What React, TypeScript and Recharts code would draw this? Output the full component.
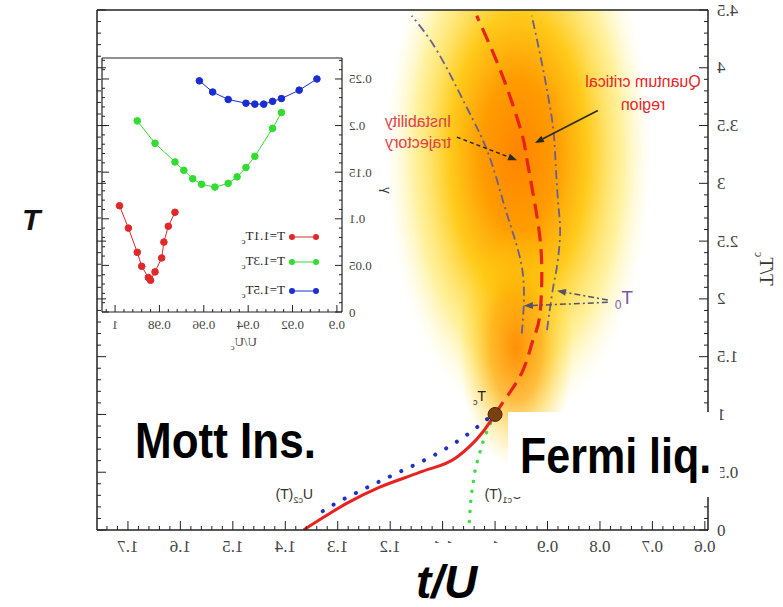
import React from "react"
import { ComposedChart, Line, XAxis, YAxis, ReferenceArea, ReferenceLine, ReferenceDot } from "recharts"

// main panel: t/U on x, T/Tc on y (the figure is printed mirrored)
const xTicks = [0.6, 0.7, 0.8, 0.9, 1, 1.1, 1.2, 1.3, 1.4, 1.5, 1.6, 1.7]
const yTicks = [0, 0.5, 1, 1.5, 2, 2.5, 3, 3.5, 4, 4.5]

// red dashed crossover line going up from Tc
const crossoverU = [1.0, 0.978, 0.947, 0.928, 0.915, 0.911, 0.92, 0.939, 0.949, 0.985, 1.035]
const crossoverT = [1.0, 1.15, 1.38, 1.64, 1.85, 2.28, 2.71, 3.2, 3.43, 3.92, 4.45]

// solid red first order line below Tc
const mottU = [1.0, 1.023, 1.073, 1.143, 1.22, 1.283, 1.334, 1.365]
const mottT = [1.0, 0.85, 0.63, 0.5, 0.37, 0.23, 0.09, 0.0]

// Uc2(T) blue dots, Uc1(T) green dots
const uc2U = [1.015, 1.061, 1.107, 1.155, 1.202, 1.252, 1.3, 1.347]
const uc2T = [0.96, 0.8, 0.67, 0.56, 0.46, 0.35, 0.24, 0.11]
const uc1U = [1.0, 1.029, 1.04, 1.048, 1.05]
const uc1T = [1.0, 0.67, 0.46, 0.15, 0.0]

// T0 dash-dot boundaries of the quantum critical region
const t0LeftU = [0.949, 0.945, 0.949, 0.966, 0.985, 1.006, 1.029, 1.061, 1.111, 1.159]
const t0LeftT = [1.7, 1.99, 2.28, 2.57, 2.85, 3.17, 3.43, 3.72, 4.15, 4.45]
const t0RightU = [0.901, 0.89, 0.882, 0.876, 0.88, 0.886, 0.892, 0.909, 0.93]
const t0RightT = [1.73, 2.08, 2.28, 2.57, 2.85, 3.29, 3.57, 4.0, 4.45]

// inset: gamma vs U/Uc
const insetXTicks = [0.9, 0.92, 0.94, 0.96, 0.98, 1]
const insetYTicks = [0, 0.05, 0.1, 0.15, 0.2, 0.25]
const redU = [0.998, 0.994, 0.99, 0.988, 0.985, 0.984, 0.982, 0.979, 0.978, 0.976, 0.973]
const redG = [0.114, 0.09, 0.064, 0.049, 0.037, 0.034, 0.043, 0.058, 0.075, 0.092, 0.107]
const greenU = [0.99, 0.982, 0.973, 0.969, 0.965, 0.961, 0.955, 0.949, 0.945, 0.941, 0.937, 0.929, 0.925]
const greenG = [0.205, 0.181, 0.161, 0.152, 0.143, 0.137, 0.134, 0.138, 0.145, 0.155, 0.167, 0.197, 0.214]
const blueU = [0.962, 0.956, 0.949, 0.941, 0.937, 0.933, 0.929, 0.925, 0.917, 0.909]
const blueG = [0.248, 0.236, 0.228, 0.224, 0.223, 0.223, 0.226, 0.229, 0.238, 0.25]

const zip = (xs: number[], ys: number[]) => xs.map((x, i) => ({ x, y: ys[i] }))
const zipInset = (xs: number[], ys: number[]) => xs.map((u, i) => ({ u, g: ys[i] }))
const steps = (a: number, b: number, s: number) => {
  const out: number[] = []
  for (let v = a; v <= b + 1e-9; v += s) out.push(Math.round(v * 1000) / 1000)
  return out
}
const withMinor = (major: number[], minor: number[]) => Array.from(new Set([...minor, ...major])).sort((a, b) => a - b)

const xAll = withMinor(xTicks, steps(0.6, 1.74, 0.02))
const yAll = withMinor(yTicks, steps(0, 4.5, 0.1))
const insetXAll = withMinor(insetXTicks, steps(0.9, 1.004, 0.004))
const insetYAll = withMinor(insetYTicks, steps(0, 0.27, 0.01))

const X_DOMAIN: [number, number] = [0.594, 1.759]
const Y_DOMAIN: [number, number] = [0, 4.5]
const IX_DOMAIN: [number, number] = [0.8977, 1.0059]
const IY_DOMAIN: [number, number] = [0, 0.2725]

const serif = "'Liberation Serif', 'DejaVu Serif', serif"
const sans = "'Liberation Sans', Arial, sans-serif"
const fmt = (v: number) => String(Number(v.toFixed(2)))

type Side = "bottom" | "top" | "left" | "right"

// frame tick drawn inward, with an optional label outside for major ticks
function frameTick(side: Side, majors: number[], long: number, short: number, label?: { size: number; gap: number }) {
  return (p: any) => {
    const v = p.payload.value
    const major = majors.some((m) => Math.abs(m - v) < 1e-6)
    const L = major ? long : short
    const { x, y } = p
    let end = { x, y }
    if (side === "bottom") end = { x, y: y - L }
    if (side === "top") end = { x, y: y + L }
    if (side === "left") end = { x: x + L, y }
    if (side === "right") end = { x: x - L, y }
    let text = null
    if (label && major) {
      const common = { fontFamily: serif, fontSize: label.size, fill: "#444" }
      text =
        side === "bottom" ? (
          <text x={x} y={y + label.gap} textAnchor="middle" dominantBaseline="hanging" {...common}>
            {fmt(v)}
          </text>
        ) : (
          <text x={x - label.gap} y={y} textAnchor="end" dominantBaseline="central" {...common}>
            {fmt(v)}
          </text>
        )
    }
    return (
      <g>
        <line x1={x} y1={y} x2={end.x} y2={end.y} stroke="#222" strokeWidth={1} />
        {text}
      </g>
    )
  }
}

function arrow(color: string, dash?: string) {
  return (p: any) => {
    const { x1, y1, x2, y2 } = p
    const a = Math.atan2(y2 - y1, x2 - x1)
    const L = 9
    const W = 3.5
    const bx = x2 - L * Math.cos(a)
    const by = y2 - L * Math.sin(a)
    const pts = `${x2},${y2} ${bx + W * Math.sin(a)},${by - W * Math.cos(a)} ${bx - W * Math.sin(a)},${by + W * Math.cos(a)}`
    return (
      <g>
        <line x1={x1} y1={y1} x2={bx} y2={by} stroke={color} strokeWidth={1.5} strokeDasharray={dash} />
        <polygon points={pts} fill={color} />
      </g>
    )
  }
}

const glow = (id: string) => (p: any) => (
  <ellipse
    cx={p.x + p.width / 2}
    cy={p.y + p.height / 2}
    rx={Math.abs(p.width) / 2}
    ry={Math.abs(p.height) / 2}
    fill={`url(#${id})`}
    clipPath={p.clipPath}
  />
)

const frameLine = { stroke: "#222", strokeWidth: 1.5 }

function MainChart() {
  return (
    <ComposedChart width={783} height={607} margin={{ top: 9, right: 96, bottom: 47, left: 0 }}>
      <defs>
        <radialGradient id="qcGlow" cx="50%" cy="50%" r="50%">
          <stop offset="0%" stopColor="#ff8400" />
          <stop offset="28%" stopColor="#ff9c00" />
          <stop offset="52%" stopColor="#ffc810" stopOpacity={0.95} />
          <stop offset="78%" stopColor="#ffe860" stopOpacity={0.6} />
          <stop offset="100%" stopColor="#fff8c0" stopOpacity={0} />
        </radialGradient>
        <radialGradient id="qcGlowLow" cx="50%" cy="50%" r="50%">
          <stop offset="0%" stopColor="#ff8a00" stopOpacity={0.95} />
          <stop offset="45%" stopColor="#ffa400" stopOpacity={0.7} />
          <stop offset="75%" stopColor="#ffc400" stopOpacity={0.3} />
          <stop offset="100%" stopColor="#ffd800" stopOpacity={0} />
        </radialGradient>
      </defs>

      <XAxis
        xAxisId="x"
        dataKey="x"
        type="number"
        domain={X_DOMAIN}
        allowDataOverflow
        ticks={xAll}
        interval={0}
        tick={frameTick("bottom", xTicks, 9, 4, { size: 17, gap: 10 })}
        tickLine={false}
        tickSize={0}
        tickMargin={0}
        axisLine={frameLine}
        height={30}
      />
      <XAxis
        xAxisId="xt"
        orientation="top"
        type="number"
        domain={X_DOMAIN}
        allowDataOverflow
        ticks={xAll}
        interval={0}
        tick={frameTick("top", xTicks, 9, 4)}
        tickLine={false}
        tickSize={0}
        tickMargin={0}
        axisLine={frameLine}
        height={1}
      />
      <YAxis
        yAxisId="y"
        type="number"
        domain={Y_DOMAIN}
        allowDataOverflow
        ticks={yAll}
        interval={0}
        tick={frameTick("left", yTicks, 9, 4, { size: 17, gap: 9 })}
        tickLine={false}
        tickSize={0}
        tickMargin={0}
        axisLine={frameLine}
        width={75}
      />
      <YAxis
        yAxisId="yr"
        orientation="right"
        type="number"
        domain={Y_DOMAIN}
        allowDataOverflow
        ticks={yAll}
        interval={0}
        tick={frameTick("right", yTicks, 9, 4)}
        tickLine={false}
        tickSize={0}
        tickMargin={0}
        axisLine={frameLine}
        width={1}
      />

      <ReferenceArea xAxisId="x" yAxisId="y" x1={0.7} x2={1.21} y1={0.9} y2={5.6} ifOverflow="hidden" shape={glow("qcGlow")} />
      <ReferenceArea xAxisId="x" yAxisId="y" x1={0.85} x2={1.07} y1={0.55} y2={2.6} ifOverflow="hidden" shape={glow("qcGlowLow")} />

      <Line xAxisId="x" yAxisId="y" data={zip(t0LeftU, t0LeftT)} dataKey="y" type="natural" stroke="#6a5f8f" strokeWidth={1.8} strokeDasharray="9 4 2 4" dot={false} activeDot={false} isAnimationActive={false} />
      <Line xAxisId="x" yAxisId="y" data={zip(t0RightU, t0RightT)} dataKey="y" type="natural" stroke="#6a5f8f" strokeWidth={1.8} strokeDasharray="9 4 2 4" dot={false} activeDot={false} isAnimationActive={false} />
      <Line xAxisId="x" yAxisId="y" data={zip(crossoverU, crossoverT)} dataKey="y" type="natural" stroke="#e8231f" strokeWidth={3.2} strokeDasharray="15 8" dot={false} activeDot={false} isAnimationActive={false} />
      <Line xAxisId="x" yAxisId="y" data={zip(uc2U, uc2T)} dataKey="y" type="monotone" stroke="#2030c8" strokeWidth={4} strokeLinecap="round" strokeDasharray="0.1 12.5" dot={false} activeDot={false} isAnimationActive={false} />
      <Line xAxisId="x" yAxisId="y" data={zip(uc1U, uc1T)} dataKey="y" type="monotone" stroke="#40dd40" strokeWidth={3.5} strokeLinecap="round" strokeDasharray="0.1 10" dot={false} activeDot={false} isAnimationActive={false} />
      <Line xAxisId="x" yAxisId="y" data={zip(mottU, mottT)} dataKey="y" type="monotone" stroke="#e8231f" strokeWidth={3} dot={false} activeDot={false} isAnimationActive={false} />

      <ReferenceLine xAxisId="x" yAxisId="y" segment={[{ x: 0.804, y: 3.63 }, { x: 0.924, y: 3.35 }]} ifOverflow="visible" shape={arrow("#2a2a18")} />
      <ReferenceLine xAxisId="x" yAxisId="y" segment={[{ x: 1.073, y: 3.4 }, { x: 0.958, y: 3.2 }]} ifOverflow="visible" shape={arrow("#2a2a18", "4 3")} />
      <ReferenceLine xAxisId="x" yAxisId="y" segment={[{ x: 0.785, y: 1.99 }, { x: 0.882, y: 2.07 }]} ifOverflow="visible" shape={arrow("#55506a", "6 3 2 3")} />
      <ReferenceLine xAxisId="x" yAxisId="y" segment={[{ x: 0.785, y: 1.97 }, { x: 0.945, y: 1.94 }]} ifOverflow="visible" shape={arrow("#55506a", "6 3 2 3")} />

      <ReferenceDot xAxisId="x" yAxisId="y" x={1} y={1} r={7} fill="#7a4010" stroke="#4a2400" strokeWidth={1} />
    </ComposedChart>
  )
}

function InsetChart() {
  const series = [
    { data: zipInset(redU, redG), color: "#e02828" },
    { data: zipInset(greenU, greenG), color: "#30dd30" },
    { data: zipInset(blueU, blueG), color: "#1a2ed0" },
  ]
  const line = { stroke: "#222", strokeWidth: 1.2 }
  return (
    <ComposedChart width={305} height={300} margin={{ top: 9, right: 3, bottom: 0, left: 0 }}>
      <XAxis
        xAxisId="ix"
        dataKey="u"
        type="number"
        domain={IX_DOMAIN}
        allowDataOverflow
        ticks={insetXAll}
        interval={0}
        tick={frameTick("bottom", insetXTicks, 7, 3, { size: 13, gap: 7 })}
        tickLine={false}
        tickSize={0}
        tickMargin={0}
        axisLine={line}
        height={36}
      />
      <XAxis
        xAxisId="ixt"
        orientation="top"
        type="number"
        domain={IX_DOMAIN}
        allowDataOverflow
        ticks={insetXAll}
        interval={0}
        tick={frameTick("top", insetXTicks, 7, 3)}
        tickLine={false}
        tickSize={0}
        tickMargin={0}
        axisLine={line}
        height={1}
      />
      <YAxis
        yAxisId="iy"
        type="number"
        domain={IY_DOMAIN}
        allowDataOverflow
        ticks={insetYAll}
        interval={0}
        tick={frameTick("left", insetYTicks, 7, 3, { size: 13, gap: 7 })}
        tickLine={false}
        tickSize={0}
        tickMargin={0}
        axisLine={line}
        width={61}
      />
      <YAxis
        yAxisId="iyr"
        orientation="right"
        type="number"
        domain={IY_DOMAIN}
        allowDataOverflow
        ticks={insetYAll}
        interval={0}
        tick={frameTick("right", insetYTicks, 7, 3)}
        tickLine={false}
        tickSize={0}
        tickMargin={0}
        axisLine={line}
        width={1}
      />

      {series.map((s, i) => (
        <Line
          key={i}
          xAxisId="ix"
          yAxisId="iy"
          data={s.data}
          dataKey="g"
          type="linear"
          stroke={s.color}
          strokeWidth={1}
          dot={{ r: 3.3, fill: s.color, stroke: s.color, strokeWidth: 1 }}
          activeDot={false}
          isAnimationActive={false}
        />
      ))}
    </ComposedChart>
  )
}

const legendRows = [
  { label: "1.1", color: "#e02828", top: 230 },
  { label: "1.3", color: "#30dd30", top: 255 },
  { label: "1.5", color: "#1a2ed0", top: 284 },
]

const abs = (left: number, top: number, extra: React.CSSProperties = {}): React.CSSProperties => ({
  position: "absolute",
  left,
  top,
  whiteSpace: "nowrap",
  ...extra,
})

export default function App() {
  return (
    <div style={{ position: "absolute", left: 0, top: 0, width: 783, height: 607, background: "#fff", overflow: "hidden" }}>
      {/* the source figure is mirrored left-right */}
      <div style={{ position: "absolute", left: 0, top: 0, width: 783, height: 607, transform: "scaleX(-1)" }}>
        <div style={abs(0, 0)}>
          <MainChart />
        </div>
        <div style={abs(380, 48)}>
          <InsetChart />
        </div>

        {legendRows.map((r) => (
          <div key={r.label} style={abs(463, r.top, { display: "flex", alignItems: "center", height: 14 })}>
            <svg width={32} height={10}>
              <line x1={3} y1={5} x2={29} y2={5} stroke={r.color} strokeWidth={1} />
              <circle cx={4} cy={5} r={3} fill={r.color} />
              <circle cx={28} cy={5} r={3} fill={r.color} />
            </svg>
            <span style={{ fontFamily: serif, fontSize: 13, color: "#222", marginLeft: 3 }}>
              T={r.label}T<sub style={{ fontSize: 9 }}>c</sub>
            </span>
          </div>
        ))}

        <div style={abs(393, 182, { fontFamily: serif, fontSize: 15, color: "#333", transform: "rotate(-90deg)" })}>γ</div>
        <div style={abs(526, 334, { fontFamily: serif, fontSize: 13, color: "#444" })}>
          U/U<sub style={{ fontSize: 9 }}>c</sub>
        </div>
        <div style={abs(2, 256, { fontFamily: serif, fontSize: 19, color: "#333", transform: "rotate(-90deg)" })}>
          T/T<sub style={{ fontSize: 12 }}>c</sub>
        </div>

        <div style={abs(65, 70, { width: 150, textAlign: "center", fontFamily: sans, fontSize: 16, lineHeight: "23px", color: "#e5262a" })}>
          Quantum critical
          <br />
          region
        </div>
        <div style={abs(320, 111, { width: 90, textAlign: "center", fontFamily: sans, fontSize: 16, lineHeight: "21px", color: "#e0404a" })}>
          Instability
          <br />
          trajectory
        </div>
        <div style={abs(150, 287, { fontFamily: sans, fontSize: 19, color: "#7a5aa8" })}>
          T<sub style={{ fontSize: 12 }}>0</sub>
        </div>
        <div style={abs(297, 388, { fontFamily: sans, fontSize: 14, color: "#222" })}>
          T<sub style={{ fontSize: 9 }}>c</sub>
        </div>
        <div style={abs(470, 486, { fontFamily: sans, fontSize: 14, color: "#333" })}>
          U<sub style={{ fontSize: 9 }}>c2</sub>(T)
        </div>
        <div style={abs(261, 486, { fontFamily: sans, fontSize: 14, color: "#333" })}>
          U<sub style={{ fontSize: 9 }}>c1</sub>(T)
        </div>
      </div>

      {/* overlaid labels (not mirrored) */}
      <div style={abs(22, 203, { fontFamily: sans, fontSize: 30, fontWeight: 700, fontStyle: "italic", color: "#111" })}>T</div>
      <div style={abs(135, 416, { fontFamily: sans, fontSize: 50, lineHeight: "50px", fontWeight: 700, color: "#000", transform: "scaleX(0.88)", transformOrigin: "left" })}>
        Mott Ins.
      </div>
      <div style={abs(508, 412, { width: 212, height: 85, background: "#fff" })} />
      <div style={abs(520, 431, { fontFamily: sans, fontSize: 50, lineHeight: "50px", fontWeight: 700, color: "#000", transform: "scaleX(0.86)", transformOrigin: "left" })}>
        Fermi liq.
      </div>
      <div style={abs(400, 543, { width: 120, height: 64, background: "#fff" })} />
      <div style={abs(416, 557, { fontFamily: sans, fontSize: 46, lineHeight: "50px", fontWeight: 700, fontStyle: "italic", color: "#000" })}>
        t/U
      </div>
    </div>
  )
}
